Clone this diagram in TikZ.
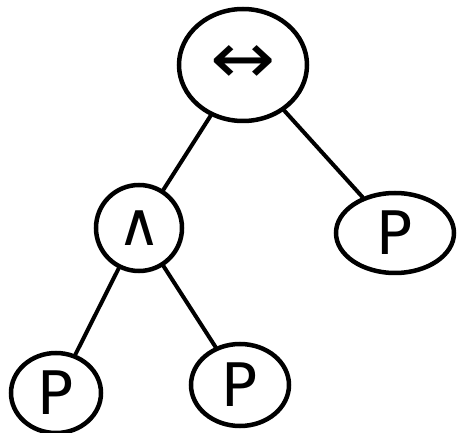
\documentclass[tikz,border=0pt]{standalone}
\usepackage{fontspec}
\setmainfont{DejaVu Sans}
\usetikzlibrary{shapes.geometric}
\begin{document}
\begin{tikzpicture}[x=1pt,y=-1pt,
  tnode/.style={draw=black, line width=4.5pt, ellipse, inner sep=0pt,
    font=\fontsize{60}{60}\selectfont},
  tedge/.style={draw=black, line width=4pt, line cap=round}]
  \useasboundingbox (0,0) rectangle (459,433);
  \node[tnode, minimum width=128pt, minimum height=112pt] (root) at (243,65)
    {\scalebox{1.3}[1.2]{↔}};
  \node[tnode, minimum width=86pt, minimum height=86pt] (and) at (139,228) {∧};
  \node[tnode, minimum width=118pt, minimum height=80pt] (r) at (395,233) {P};
  \node[tnode, minimum width=90pt, minimum height=80pt] (ll) at (56,393) {P};
  \node[tnode, minimum width=98pt, minimum height=82pt] (lr) at (240,385) {P};
  \draw[tedge] (root) -- (and);
  \draw[tedge] (root) -- (r);
  \draw[tedge] (and) -- (ll);
  \draw[tedge] (and) -- (lr);
\end{tikzpicture}
\end{document}
